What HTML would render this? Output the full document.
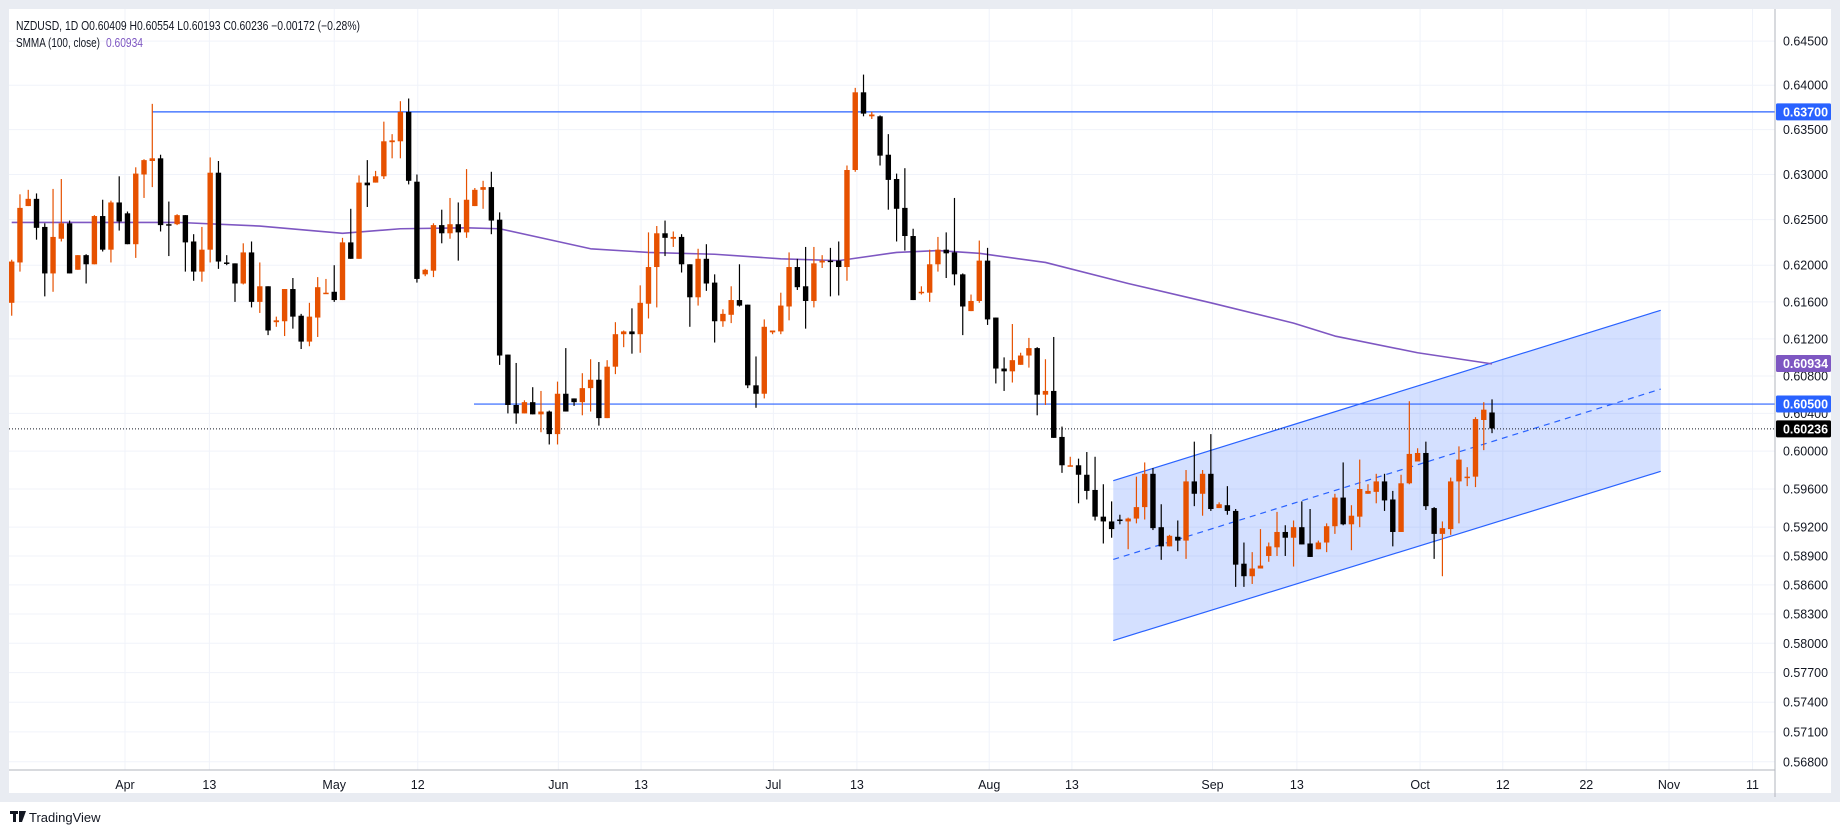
<!DOCTYPE html>
<html><head><meta charset="utf-8"><style>
html,body{margin:0;padding:0;background:#fff;}
svg{display:block;font-family:"Liberation Sans",sans-serif;}
</style></head><body>
<svg id="chart" width="1843" height="834" viewBox="0 0 1843 834" xmlns="http://www.w3.org/2000/svg">
<rect x="0" y="0" width="1843" height="834" fill="#ffffff"/>
<rect x="4.5" y="4.5" width="1831" height="793" fill="#fff" stroke="#e9ecf2" stroke-width="9"/>
<g id="grid"></g>
<g id="channel"></g>
<g id="hlines"></g>
<g id="smma"></g>
<g id="candles"></g>
<line x1="1775" y1="9" x2="1775" y2="797" stroke="#b2b5be" stroke-width="1"/>
<line x1="9" y1="770" x2="1775" y2="770" stroke="#b2b5be" stroke-width="1"/>
<g id="yaxis"></g>
<g id="xaxis"></g>
<text x="16" y="30" font-size="12.5" fill="#131722" textLength="344" lengthAdjust="spacingAndGlyphs">NZDUSD, 1D  O0.60409  H0.60554  L0.60193  C0.60236  −0.00172 (−0.28%)</text>
<text x="16" y="47" font-size="12.5" fill="#131722" textLength="84" lengthAdjust="spacingAndGlyphs">SMMA (100, close)</text>
<text x="106" y="47" font-size="12.5" fill="#7e57c2" textLength="37" lengthAdjust="spacingAndGlyphs">0.60934</text>
<g>
<rect x="10" y="811" width="8" height="3" fill="#131722"/><rect x="13" y="811" width="3" height="11" fill="#131722"/>
<polygon points="19,811 26,811 22,822 19,822" fill="#131722"/>
<text x="29" y="822" font-size="13" fill="#131722">TradingView</text>
</g>
</svg>
<script>
const opens=[.6159,.6203,.6265,.6273,.6242,.6191,.6229,.6246,.6195,.6211,.6201,.6254,.6217,.6269,.6257,.6223,.6300,.6315,.6318,.6245,.6245,.6255,.6226,.6193,.6217,.6302,.6203,.6202,.6180,.6214,.6160,.6177,.6138,.6139,.6174,.6145,.6117,.6143,.6170,.6171,.6162,.6225,.6207,.6291,.6291,.6298,.6336,.6337,.6370,.6292,.6190,.6194,.6244,.6235,.6245,.6236,.6265,.6283,.6286,.6250,.6103,.6049,.6040,.6052,.6039,.6042,.6018,.6061,.6056,.6052,.6067,.6076,.6035,.6090,.6125,.6128,.6125,.6158,.6198,.6235,.6229,.6231,.6201,.6165,.6207,.6181,.6139,.6146,.6162,.6157,.6070,.6061,.6127,.6128,.6155,.6198,.6177,.6161,.6203,.6205,.6205,.6198,.6305,.6392,.6365,.6365,.6322,.6295,.6263,.6232,.6170,.6170,.6201,.6217,.6214,.6190,.6150,.6161,.6205,.6143,.6088,.6085,.6092,.6102,.6110,.6060,.6064,.6015,.5984,.5985,.5975,.5959,.5931,.5926,.5928,.5926,.5929,.5941,.5976,.5920,.5900,.5910,.5906,.5968,.5955,.5976,.5940,.5943,.5937,.5882,.5869,.5877,.5890,.5899,.5915,.5909,.5920,.5903,.5897,.5904,.5921,.5951,.5923,.5931,.5955,.5957,.5968,.5949,.5915,.5966,.5989,.5998,.5940,.5913,.5918,.5968,.5973,.5973,.6033,.6041];
const highs=[.6206,.6278,.6283,.6279,.6246,.6284,.6295,.6249,.6211,.6212,.6255,.6272,.6271,.6298,.6259,.6308,.6317,.6379,.6322,.6270,.6256,.6255,.6234,.6242,.6319,.6315,.6211,.6202,.6224,.6226,.6203,.6177,.6144,.6174,.6186,.6147,.6159,.6187,.6185,.6200,.6230,.6262,.6299,.6316,.6304,.6359,.6345,.6382,.6385,.6300,.6196,.6246,.6261,.6274,.6269,.6306,.6285,.6293,.6303,.6258,.6103,.6094,.6054,.6068,.6064,.6043,.6074,.6110,.6056,.6083,.6098,.6095,.6097,.6138,.6129,.6153,.6178,.6236,.6243,.6249,.6237,.6234,.6201,.6218,.6223,.6190,.6152,.6177,.6201,.6157,.6101,.6141,.6129,.6170,.6214,.6207,.6220,.6220,.6211,.6219,.6226,.6310,.6397,.6412,.6370,.6366,.6345,.6301,.6307,.6240,.6177,.6217,.6231,.6236,.6274,.6191,.6168,.6227,.6219,.6143,.6100,.6136,.6105,.6121,.6111,.6098,.6122,.6026,.5994,.5992,.5999,.5994,.5965,.5947,.5933,.5930,.5973,.5988,.5982,.5944,.5912,.5927,.5980,.6010,.5980,.6018,.5946,.5963,.5939,.5904,.5894,.5918,.5904,.5936,.5922,.5927,.5947,.5939,.5906,.5924,.5955,.5988,.5943,.5991,.5965,.5976,.5976,.5958,.5975,.6053,.6003,.6010,.5941,.5926,.5972,.6005,.5983,.6036,.6052,.6055];
const lows=[.6145,.6193,.6265,.6228,.6166,.6171,.6226,.6191,.6195,.6180,.6201,.6215,.6203,.6238,.6223,.6208,.6274,.6286,.6237,.6210,.6244,.6193,.6183,.6182,.6203,.6196,.6200,.6160,.6179,.6154,.6148,.6124,.6133,.6123,.6131,.6109,.6112,.6122,.6169,.6160,.6162,.6207,.6207,.6264,.6291,.6295,.6318,.6318,.6289,.6181,.6188,.6187,.6224,.6229,.6205,.6230,.6265,.6262,.6234,.6092,.6040,.6029,.6040,.6039,.6020,.6007,.6007,.6042,.6048,.6038,.6042,.6027,.6035,.6082,.6111,.6104,.6105,.6142,.6154,.6210,.6220,.6192,.6133,.6156,.6172,.6116,.6133,.6137,.6155,.6067,.6046,.6056,.6125,.6125,.6140,.6173,.6131,.6154,.6197,.6166,.6167,.6183,.6303,.6365,.6362,.6310,.6261,.6226,.6216,.6162,.6168,.6160,.6193,.6186,.6178,.6124,.6150,.6159,.6135,.6072,.6064,.6073,.6092,.6089,.6038,.6049,.6014,.5977,.5984,.5945,.5949,.5927,.5903,.5909,.5923,.5897,.5924,.5928,.5917,.5886,.5900,.5895,.5887,.5942,.5932,.5937,.5940,.5933,.5858,.5858,.5861,.5877,.5884,.5890,.5890,.5879,.5902,.5889,.5897,.5894,.5913,.5922,.5896,.5920,.5955,.5945,.5937,.5900,.5915,.5965,.5989,.5938,.5887,.5869,.5912,.5924,.5963,.5962,.6001,.6019];
const closes=[.6204,.6263,.6273,.6241,.6191,.6231,.6246,.6191,.6211,.6201,.6254,.6217,.6269,.6248,.6223,.6301,.6316,.6318,.6244,.6244,.6255,.6225,.6193,.6217,.6302,.6204,.6202,.6180,.6214,.6160,.6177,.6129,.6140,.6174,.6144,.6117,.6144,.6176,.6170,.6162,.6225,.6207,.6291,.6288,.6298,.6337,.6338,.6370,.6293,.6185,.6195,.6244,.6235,.6245,.6236,.6272,.6283,.6286,.6249,.6102,.6049,.6040,.6052,.6039,.6042,.6018,.6061,.6042,.6052,.6067,.6076,.6035,.6090,.6125,.6128,.6125,.6159,.6198,.6235,.6230,.6231,.6201,.6165,.6207,.6180,.6139,.6147,.6162,.6156,.6070,.6061,.6133,.6129,.6156,.6198,.6176,.6161,.6202,.6205,.6204,.6198,.6305,.6392,.6368,.6367,.6321,.6294,.6262,.6232,.6162,.6171,.6201,.6217,.6213,.6190,.6155,.6161,.6205,.6141,.6088,.6085,.6097,.6102,.6110,.6060,.6064,.6014,.5985,.5985,.5975,.5958,.5931,.5926,.5918,.5927,.5929,.5941,.5976,.5919,.5900,.5911,.5906,.5968,.5955,.5976,.5939,.5944,.5937,.5881,.5869,.5877,.5880,.5900,.5915,.5909,.5920,.5902,.5889,.5904,.5921,.5951,.5923,.5932,.5960,.5958,.5968,.5948,.5915,.5966,.5997,.5998,.5942,.5913,.5919,.5968,.5991,.5973,.6034,.6044,.6024];
const smmaIdx=[0,10,20,30,40,47,55,59,65,70,77,85,93,100,107,112,117,125,135,145,155,160,170,179];
const smmaVal=[.6247,.6247,.6247,.6243,.6235,.6240,.6241,.6240,.6228,.6218,.6214,.6212,.6207,.6205,.6214,.6216,.6213,.6203,.6180,.6159,.6137,.6123,.6105,.6093];
const yTicks=[0.645,0.640,0.635,0.630,0.625,0.620,0.616,0.612,0.608,0.604,0.600,0.596,0.592,0.589,0.586,0.583,0.580,0.577,0.574,0.571,0.568];
const xTickLabels=["Apr","13","May","12","Jun","13","Jul","13","Aug","13","Sep","13","Oct","12","22","Nov","11"];
const xTickIdx=[13.7,23.9,39,49.1,66.1,76.1,92.1,102.2,118.2,128.2,145.2,155.4,170.3,180.3,190.4,200.4,210.5];
const hLevels=[0.637,0.605];
const hStartIdx=[17,55.9];
const lastPrice=0.60236, smmaLast=0.60934;
const chanIdx=[133.2,199.4];
const chanTop=[0.59687,0.61509];
const chanMid=[0.58864,0.60660];
const chanBot=[0.58028,0.59786];

const NS="http://www.w3.org/2000/svg";
const X=i=>11.7+i*8.27;
const Y=p=>41.1+Math.log(0.645/p)*5669;
function mk(tag,attrs,parent){const e=document.createElementNS(NS,tag);for(const k in attrs)e.setAttribute(k,attrs[k]);parent.appendChild(e);return e;}
const grid=document.getElementById('grid');
yTicks.forEach(t=>{const l=mk('line',{x1:9,x2:1775,y1:Y(t),y2:Y(t),stroke:'#f0f3fa','stroke-width':1},grid);

});
xTickIdx.forEach(t=>{const l=mk('line',{x1:X(t),x2:X(t),y1:9,y2:770,stroke:'#f0f3fa','stroke-width':1},grid);

});
const ch=document.getElementById('channel');
const xa=X(chanIdx[0]),xb=X(chanIdx[1]);
const poly=mk('polygon',{points:`${xa},${Y(chanTop[0])} ${xb},${Y(chanTop[1])} ${xb},${Y(chanBot[1])} ${xa},${Y(chanBot[0])}`,fill:'rgba(41,98,255,0.2)'},ch);


[[chanTop,'channel-top',''],[chanBot,'channel-bottom',''],[chanMid,'channel-median','6,5']].forEach(([a,n,d])=>{
 const l=mk('line',{x1:xa,y1:Y(a[0]),x2:xb,y2:Y(a[1]),stroke:'#2962ff','stroke-width':1.2,'stroke-dasharray':d},ch);
 
 });
const hl=document.getElementById('hlines');
hLevels.forEach((p,k)=>{const l=mk('line',{x1:X(hStartIdx[k]),x2:1775,y1:Y(p),y2:Y(p),stroke:'#2962ff','stroke-width':1.2},hl);

});
const dl=mk('line',{x1:9,x2:1775,y1:Y(lastPrice),y2:Y(lastPrice),stroke:'#131722','stroke-width':1,'stroke-dasharray':'1,2'},hl);


const sm=document.getElementById('smma');
const sp=mk('polyline',{points:smmaIdx.map((i,k)=>X(i)+','+Y(smmaVal[k])).join(' '),fill:'none',stroke:'#7e57c2','stroke-width':1.6,'stroke-linejoin':'round'},sm);


const cg=document.getElementById('candles');
for(let i=0;i<closes.length;i++){
 const o=opens[i],c=closes[i],h=highs[i],l=lows[i],x=X(i);
 const col=c>=o?'#e65100':'#000000';
 const g=mk('g',{},cg);
 
 
 mk('line',{x1:x,x2:x,y1:Y(h),y2:Y(l),stroke:col,'stroke-width':1.2},g);
 const yt=Y(Math.max(o,c)),yb=Y(Math.min(o,c));
 mk('rect',{x:Math.max(9,x-2.7),y:yt,width:(x-2.7<9?x+2.7-9:5.4),height:Math.max(1.5,yb-yt),fill:col},g);
}
const ya=document.getElementById('yaxis');
yTicks.forEach(t=>{const tx=mk('text',{x:1783,y:Y(t)+4.5,'font-size':12.5,fill:'#131722',textLength:45,lengthAdjust:'spacingAndGlyphs'},ya);tx.textContent=t.toFixed(5);

});
[[0.637,'#2962ff','0.63700'],[smmaLast,'#7e57c2','0.60934'],[0.605,'#2962ff','0.60500'],[lastPrice,'#000000','0.60236']].forEach(([p,c,s])=>{
 const g=mk('g',{},ya);
 
 
 mk('rect',{x:1776,y:Y(p)-8.5,width:55,height:17,fill:c,rx:1.5},g);
 const t=mk('text',{x:1783,y:Y(p)+4.5,'font-size':12.5,'font-weight':'bold',fill:'#fff',textLength:45,lengthAdjust:'spacingAndGlyphs'},g);t.textContent=s;});
const xa2=document.getElementById('xaxis');
xTickIdx.forEach((t,k)=>{const tx=mk('text',{x:X(t),y:789,'font-size':12.5,fill:'#131722','text-anchor':'middle'},xa2);tx.textContent=xTickLabels[k];

});
</script>
</body></html>
